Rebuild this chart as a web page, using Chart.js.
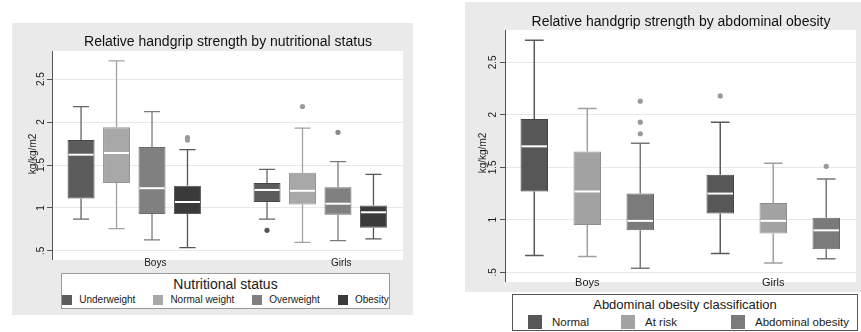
<!DOCTYPE html>
<html>
<head>
<meta charset="utf-8">
<title>Relative handgrip strength</title>
<script src="https://cdn.jsdelivr.net/npm/chart.js@4.4.1/dist/chart.umd.min.js"></script>
<style>
body { margin: 0; background: #fff; font-family: "Liberation Sans", Arial, sans-serif; }
#wrap { position: relative; width: 861px; height: 332px; overflow: hidden; }
canvas { position: absolute; top: 0; }
#grafico-nutri { left: 0; }
#grafico-abdo { left: 430px; }
.legenda { position: absolute; background: #fff; box-sizing: border-box; color: #1a1a1a; text-align: center; }
.legenda i { display: inline-block; flex: none; }
.leg-item { display: flex; align-items: center; white-space: nowrap; }
#leg-nutri { left: 61px; top: 273px; width: 329px; height: 36px; border: 1px solid #9a9a9a; }
#leg-nutri .leg-titulo { font-size: 14px; line-height: 20px; }
#leg-nutri .leg-itens { display: flex; justify-content: center; gap: 18px; font-size: 10px; line-height: 12px; }
#leg-nutri i { width: 10px; height: 10px; margin-right: 7px; }
#leg-abdo { left: 512px; top: 294px; width: 346px; height: 37px; border: 1px solid #555; }
#leg-abdo .leg-titulo { font-size: 13px; line-height: 20px; }
#leg-abdo .leg-itens { display: grid; grid-template-columns: 93px 110px auto; padding-left: 15px; font-size: 11.5px; line-height: 14px; }
#leg-abdo i { width: 14px; height: 14px; margin-right: 10px; }
</style>
</head>
<body>
<div id="wrap">
  <canvas id="grafico-nutri" width="430" height="332"></canvas>
  <canvas id="grafico-abdo" width="431" height="332"></canvas>
  <div class="legenda" id="leg-nutri"></div>
  <div class="legenda" id="leg-abdo"></div>
</div>
<script>
// grupos do eixo x
var grupos = ['Boys', 'Girls'];

// ticks do eixo y
var yTicks = [0.5, 1, 1.5, 2, 2.5];
var yTickLabels = ['.5', '1', '1.5', '2', '2.5'];

// painel 1: [bigode inf, q1, mediana, q3, bigode sup] por grupo
var seriesNutri = ['Underweight', 'Normal weight', 'Overweight', 'Obesity'];
var underweight = [[0.87, 1.11, 1.62, 1.79, 2.18], [0.87, 1.07, 1.21, 1.29, 1.45]];
var normalWeight = [[0.76, 1.29, 1.64, 1.94, 2.71], [0.60, 1.04, 1.20, 1.41, 1.93]];
var overweight = [[0.63, 0.93, 1.23, 1.71, 2.12], [0.62, 0.92, 1.05, 1.24, 1.54]];
var obesity = [[0.54, 0.93, 1.07, 1.26, 1.68], [0.64, 0.77, 0.95, 1.03, 1.39]];
var underweightOut = [[], [0.74]];
var normalWeightOut = [[], [2.18]];
var overweightOut = [[], [1.88]];
var obesityOut = [[1.79, 1.82], []];

// painel 2
var seriesAbdo = ['Normal', 'At risk', 'Abdominal obesity'];
var normal = [[0.66, 1.27, 1.70, 1.96, 2.71], [0.68, 1.06, 1.25, 1.43, 1.93]];
var atRisk = [[0.65, 0.95, 1.27, 1.65, 2.06], [0.59, 0.87, 0.99, 1.16, 1.54]];
var abdObesity = [[0.54, 0.90, 0.99, 1.25, 1.73], [0.63, 0.72, 0.90, 1.02, 1.39]];
var normalOut = [[], [2.18]];
var atRiskOut = [[], []];
var abdObesityOut = [[1.82, 1.93, 2.13], [1.51]];

function montarDatasets(nomes, caixas, outliers, cores, bordas, bigodes, pontos) {
    return nomes.map(function (nome, s) {
        return {
            label: nome,
            data: caixas[s].map(function (c, g) { return { x: g, y: [c[1], c[3]] }; }),
            caixa: caixas[s],
            outliers: outliers[s],
            backgroundColor: cores[s],
            borderColor: bordas[s],
            borderWidth: 1,
            borderSkipped: false,
            corBigode: bigodes[s],
            corPonto: pontos[s]
        };
    });
}

function criarPlugin(cfg) {
    return {
        id: 'boxplot',
        beforeDraw: function (chart) {
            var ctx = chart.ctx, a = chart.chartArea;
            ctx.save();
            ctx.fillStyle = '#fff';
            ctx.fillRect(0, 0, chart.width, chart.height);
            ctx.fillStyle = '#eaeaea';
            ctx.fillRect(cfg.painel.x, cfg.painel.y, cfg.painel.w, cfg.painel.h);
            // area branca do grafico um pouco abaixo da area do chart (margem do Stata)
            ctx.fillStyle = '#fff';
            ctx.fillRect(a.left, a.top, a.right - a.left, a.bottom - a.top + cfg.extra);
            ctx.restore();
        },
        beforeDatasetsDraw: function (chart) {
            var ctx = chart.ctx, sy = chart.scales.y, a = chart.chartArea;
            ctx.save();
            // linha do eixo y
            ctx.strokeStyle = '#555';
            ctx.lineWidth = 1;
            ctx.beginPath();
            ctx.moveTo(a.left - 0.5, a.top);
            ctx.lineTo(a.left - 0.5, a.bottom + cfg.extra);
            ctx.stroke();
            ctx.lineWidth = cfg.bigode;
            chart.data.datasets.forEach(function (ds, i) {
                chart.getDatasetMeta(i).data.forEach(function (bar, g) {
                    var c = ds.caixa[g];
                    var x = bar.x, t = bar.width * cfg.tampa / 2;
                    var yLo = sy.getPixelForValue(c[0]), yQ1 = sy.getPixelForValue(c[1]);
                    var yQ3 = sy.getPixelForValue(c[3]), yHi = sy.getPixelForValue(c[4]);
                    ctx.strokeStyle = ds.corBigode;
                    ctx.beginPath();
                    ctx.moveTo(x, yQ3); ctx.lineTo(x, yHi);
                    ctx.moveTo(x, yQ1); ctx.lineTo(x, yLo);
                    ctx.moveTo(x - t, yHi); ctx.lineTo(x + t, yHi);
                    ctx.moveTo(x - t, yLo); ctx.lineTo(x + t, yLo);
                    ctx.stroke();
                });
            });
            ctx.restore();
        },
        afterDatasetsDraw: function (chart) {
            var ctx = chart.ctx, sy = chart.scales.y;
            ctx.save();
            chart.data.datasets.forEach(function (ds, i) {
                chart.getDatasetMeta(i).data.forEach(function (bar, g) {
                    var x = bar.x, w = bar.width;
                    var yMed = sy.getPixelForValue(ds.caixa[g][2]);
                    ctx.strokeStyle = '#fff';
                    ctx.lineWidth = 2;
                    ctx.beginPath();
                    ctx.moveTo(x - w / 2 + 1, yMed); ctx.lineTo(x + w / 2 - 1, yMed);
                    ctx.stroke();
                    ctx.fillStyle = ds.corPonto;
                    ds.outliers[g].forEach(function (v) {
                        ctx.beginPath();
                        ctx.arc(x, sy.getPixelForValue(v), 2.6, 0, Math.PI * 2);
                        ctx.fill();
                    });
                });
            });
            ctx.restore();
        },
        afterDraw: function (chart) {
            // rotulos do eixo y na vertical (estilo Stata)
            var ctx = chart.ctx, sy = chart.scales.y, a = chart.chartArea;
            ctx.save();
            ctx.font = '10px "Liberation Sans", Arial, sans-serif';
            ctx.fillStyle = '#1a1a1a';
            ctx.textAlign = 'center';
            ctx.textBaseline = 'middle';
            yTicks.forEach(function (v, k) {
                ctx.save();
                ctx.translate(a.left - cfg.rotuloY, sy.getPixelForValue(v));
                ctx.rotate(-Math.PI / 2);
                ctx.fillText(yTickLabels[k], 0, 0);
                ctx.restore();
            });
            ctx.restore();
        }
    };
}

function criarGrafico(id, titulo, datasets, cfg) {
    return new Chart(document.getElementById(id).getContext('2d'), {
        type: 'bar',
        data: { datasets: datasets },
        options: {
            responsive: false,
            animation: false,
            events: [],
            categoryPercentage: cfg.catPct,
            barPercentage: cfg.barPct,
            layout: { padding: cfg.padding },
            plugins: {
                legend: { display: false },
                tooltip: { enabled: false },
                title: {
                    display: true,
                    text: titulo,
                    fullSize: false,
                    color: '#111',
                    font: { family: '"Liberation Sans", Arial, sans-serif', size: 14, weight: 'normal' },
                    padding: cfg.tituloGraf
                }
            },
            scales: {
                x: {
                    type: 'linear',
                    min: -0.437,
                    max: 1.445,
                    offset: false,
                    afterBuildTicks: function (s) {
                        s.ticks = grupos.map(function (g, i) { return { value: i }; });
                    },
                    ticks: {
                        callback: function (v, i) { return grupos[i]; },
                        font: { family: '"Liberation Sans", Arial, sans-serif', size: cfg.fonteX },
                        color: '#1a1a1a',
                        padding: 0,
                        labelOffset: cfg.deslocX,
                        maxRotation: 0,
                        autoSkip: false
                    },
                    grid: { display: false, drawTicks: false, offset: false },
                    border: { display: false }
                },
                y: {
                    min: cfg.yMin,
                    max: cfg.yMax,
                    afterBuildTicks: function (s) {
                        s.ticks = yTicks.map(function (v) { return { value: v }; });
                    },
                    ticks: { display: false },
                    grid: { color: '#e8e8e8', tickColor: '#555', tickLength: 6, drawTicks: true },
                    border: { display: false },
                    title: {
                        display: true,
                        text: 'kg/kg/m2',
                        color: '#1a1a1a',
                        font: { family: '"Liberation Sans", Arial, sans-serif', size: 10 },
                        padding: { top: 0, bottom: cfg.tituloPad }
                    }
                }
            }
        },
        plugins: [criarPlugin(cfg)]
    });
}

function montarLegenda(id, titulo, nomes, cores) {
    var html = "<div class='leg-titulo'>" + titulo + "</div><div class='leg-itens'>";
    nomes.forEach(function (n, i) {
        html += "<span class='leg-item'><i style='background:" + cores[i] + "'></i>" + n + "</span>";
    });
    html += "</div>";
    document.getElementById(id).innerHTML = html;
}

var coresNutri = ['#5c5c5c', '#a8a8a8', '#808080', '#3a3a3a'];
var coresAbdo = ['#575757', '#a3a3a3', '#7a7a7a'];

criarGrafico('grafico-nutri', 'Relative handgrip strength by nutritional status',
    montarDatasets(seriesNutri,
        [underweight, normalWeight, overweight, obesity],
        [underweightOut, normalWeightOut, overweightOut, obesityOut],
        coresNutri,
        ['#464646', '#939393', '#6c6c6c', '#5a5a5a'],
        ['#666', '#a2a2a2', '#7c7c7c', '#555'],
        ['#555', '#9c9c9c', '#8a8a8a', '#9c9c9c']),
    {
        painel: { x: 12, y: 23, w: 401, h: 292 },
        padding: { left: 27, right: 27, top: 24, bottom: 63 },
        tituloGraf: { top: 9.6, bottom: 0.6 },
        yMin: 0.430, yMax: 2.826,
        catPct: 0.763, barPct: 0.76,
        fonteX: 10, deslocX: 21, extra: 3,
        tituloPad: 8, rotuloY: 12,
        bigode: 1.3, tampa: 0.6
    });

criarGrafico('grafico-abdo', 'Relative handgrip strength by abdominal obesity',
    montarDatasets(seriesAbdo,
        [normal, atRisk, abdObesity],
        [normalOut, atRiskOut, abdObesityOut],
        coresAbdo,
        ['#444', '#8e8e8e', '#666'],
        ['#5a5a5a', '#a0a0a0', '#777'],
        ['#999', '#999', '#999']),
    {
        painel: { x: 35, y: 2, w: 396, h: 290 },
        padding: { left: 47, right: 5, top: 3, bottom: 42.8 },
        tituloGraf: { top: 10.6, bottom: -0.4 },
        yMin: 0.465, yMax: 2.808,
        catPct: 0.855, barPct: 0.519,
        fonteX: 11, deslocX: 0, extra: 6,
        tituloPad: 11, rotuloY: 13,
        bigode: 1.5, tampa: 0.68
    });

montarLegenda('leg-nutri', 'Nutritional status', seriesNutri, coresNutri);
montarLegenda('leg-abdo', 'Abdominal obesity classification', seriesAbdo, coresAbdo);
</script>
</body>
</html>
